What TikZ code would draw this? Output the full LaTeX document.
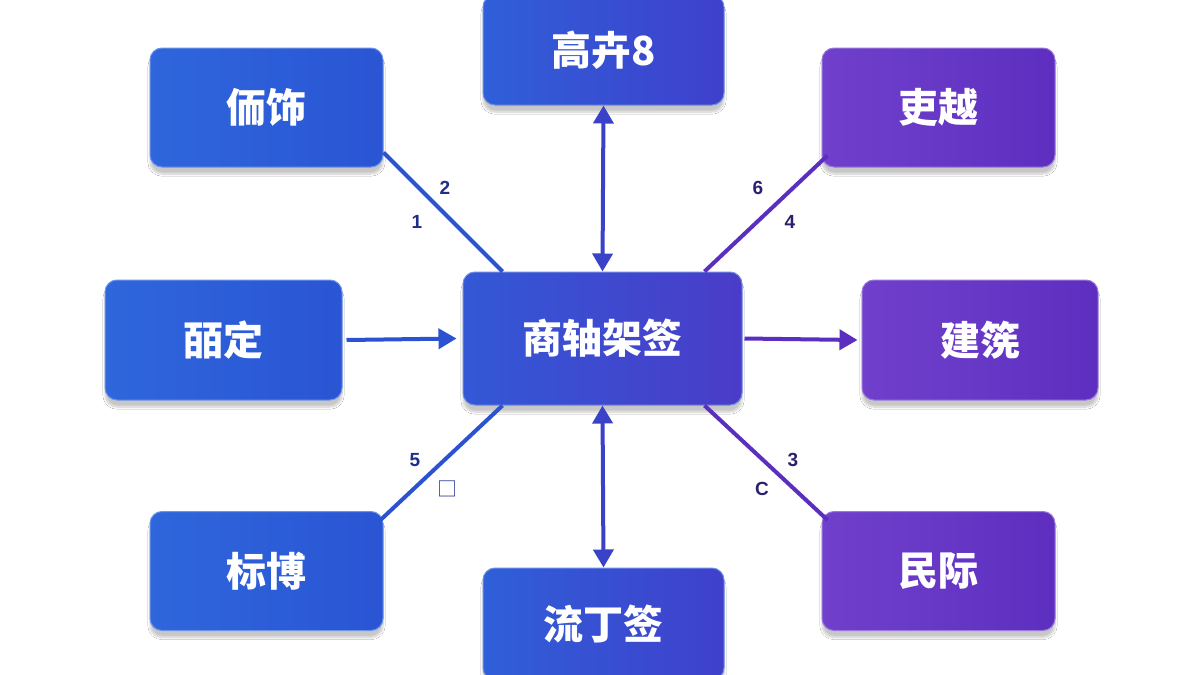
\documentclass[tikz,border=0pt]{standalone}
\usepackage{fontspec}
\setmainfont{Liberation Sans}
\newfontfamily\cjk{Noto Sans CJK SC}
\usetikzlibrary{arrows.meta,shadows.blur,calc}
\definecolor{bA}{HTML}{2F66DC}\definecolor{bB}{HTML}{2A55D4}
\definecolor{cA}{HTML}{3258D6}\definecolor{cB}{HTML}{4A3CC8}
\definecolor{pA}{HTML}{7040CC}\definecolor{pB}{HTML}{5E2EC0}
\definecolor{tA}{HTML}{2F5FD9}\definecolor{tB}{HTML}{3F40CB}
\definecolor{lb}{HTML}{2B52D0}\definecolor{lm}{HTML}{3A42C8}\definecolor{lp}{HTML}{5A2EBF}
\definecolor{nb}{HTML}{1E2E8A}\definecolor{np}{HTML}{2A2070}
\begin{document}
\begin{tikzpicture}[x=1pt,y=-1pt,
  box/.style 2 args={rectangle,rounded corners=12pt,draw=#1!70!white,line width=1pt,
    left color=#1,right color=#2,text=white,
    font=\cjk\bfseries\fontsize{40}{48}\selectfont,inner sep=0pt,
    blur shadow={shadow blur steps=10,shadow xshift=0pt,shadow yshift=-7pt,shadow opacity=22}},
  num/.style={font=\bfseries\fontsize{19}{22}\selectfont,text=#1},
  ln/.style={line width=4pt,draw=#1},
  tip/.style={-{Triangle[length=18pt,width=20pt]}},
  tips/.style={{Triangle[length=18pt,width=20pt]}-{Triangle[length=18pt,width=20pt]}}]
\useasboundingbox (0,0) rectangle (1200,675);
\fill[white] (0,0) rectangle (1200,675);
\node[box={cA}{cB},minimum width=279pt,minimum height=133pt] (c) at (602.5,338.5) {商轴架签};
\node[box={tA}{tB},minimum width=241pt,minimum height=110pt] (t) at (603.5,50) {高卉8};
\node[box={tA}{tB},minimum width=241pt,minimum height=112pt] (b) at (603.5,624) {流丁签};
\node[box={bA}{bB},minimum width=233pt,minimum height=119pt] (tl) at (266.5,107.5) {侕饰};
\node[box={bA}{bB},minimum width=237pt,minimum height=120pt] (l) at (223.5,340) {皕定};
\node[box={bA}{bB},minimum width=233pt,minimum height=119pt] (bl) at (266.5,571) {标博};
\node[box={pA}{pB},minimum width=233pt,minimum height=119pt] (tr) at (938.5,107.5) {吏越};
\node[box={pA}{pB},minimum width=236pt,minimum height=120pt] (r) at (980,340) {建箲};
\node[box={pA}{pB},minimum width=233pt,minimum height=119pt] (br) at (938.5,571) {民际};
% connectors
\draw[ln=lm,tips] (t.south) -- (c.north);
\draw[ln=lm,tips] (c.south) -- (b.north);
\draw[ln=lb,tip] (l.east) ++(4,0) coordinate (le) (le) -- ($(c.west)+(-6,0)$);
\draw[ln=lp,tip] ($(c.east)+(2,0)$) -- ($(r.west)+(-4,0)$);
\draw[ln=lb] ($(tl.south east)+(0,-15)$) -- ($(c.north west)+(40,0)$);
\draw[ln=lp] ($(tr.south west)+(6,-12)$) -- ($(c.north east)+(-38,0)$);
\draw[ln=lb] ($(bl.north east)+(-3,9)$) -- ($(c.south west)+(40,0)$);
\draw[ln=lp] ($(br.north west)+(6,9)$) -- ($(c.south east)+(-38,0)$);
% labels
\node[num=nb] (n2) at (445,188) {2};
\node[num=nb] (n1) at (417,222) {1};
\node[num=np] (n6) at (758,188) {6};
\node[num=np] (n4) at (790,222) {4};
\node[num=nb] (n5) at (415,460) {5};
\node[num=nb,font=\cjk\fontsize{20}{22}\selectfont] (nq) at (447,489) {□};
\node[num=np] (n3) at (793,460) {3};
\node[num=np] (nc) at (762,489) {C};
\end{tikzpicture}
\end{document}
